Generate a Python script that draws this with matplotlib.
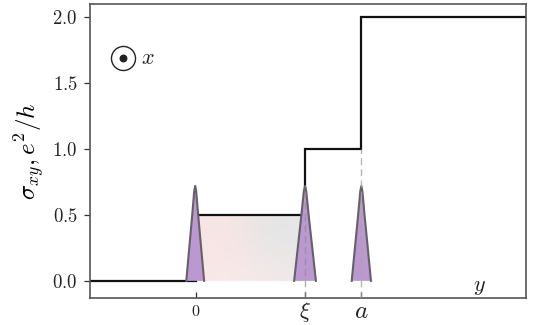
import numpy as np
import matplotlib
matplotlib.use("Agg")
import matplotlib.pyplot as plt
from matplotlib.colors import to_rgb

plt.rcParams["mathtext.fontset"] = "cm"
plt.rcParams["font.family"] = "DejaVu Serif"

# conductance steps
step_x = [-0.64, 0.0, 0.0, 0.66, 0.66, 1.0, 1.0, 2.0]
step_y = [0.0, 0.0, 0.5, 0.5, 1.0, 1.0, 2.0, 2.0]

# peak positions and profile (offset from centre, height)
peak_centres = [-0.003, 0.662, 1.003]
peak_widths = [1.0, 1.22, 1.08]
profile_dx = [-0.054, -0.036, -0.018, -0.006, 0.0, 0.006, 0.018, 0.036, 0.054]
profile_h = [0.0, 0.25, 0.50, 0.68, 0.72, 0.68, 0.50, 0.25, 0.0]

# shaded patch colours between 0 and xi
patch_colors = [["#f7e6e6", "#f5e6e6", "#e6e6e6", "#e6e6e6"],
                ["#f9e4e4", "#f8e5e5", "#e9e6e6", "#e7e6e6"],
                ["#f9e8e8", "#f8e9e9", "#f3e9e9", "#efe9e9"]]

ticks_y = [0.0, 0.5, 1.0, 1.5, 2.0]
tick_labels_y = ["$0.0$", "$0.5$", "$1.0$", "$1.5$", "$2.0$"]
ticks_x = [0.0, 0.66, 1.0]

fig = plt.figure(figsize=(5.4, 3.25), dpi=100)
ax = fig.add_axes([90 / 540, 1 - 298 / 325, 436 / 540, 294 / 325])

# soft colour block behind the middle plateau
rgb = np.array([[to_rgb(c) for c in row] for row in patch_colors])
ax.imshow(rgb, extent=(0.0, 0.66, 0.0, 0.5), origin="upper", aspect="auto",
          interpolation="bicubic", zorder=1)

ax.plot(step_x, step_y, color="#111111", lw=1.6, solid_joinstyle="miter", zorder=2)

for xc, w in zip(peak_centres, peak_widths):
    px = xc + np.array(profile_dx) * w
    ax.fill(px, profile_h, facecolor="#bb98cf", edgecolor="none", zorder=3)
    ax.plot(px, profile_h, color="#66606a", lw=1.5, zorder=4)

ax.plot([0.66, 0.66], [-0.13, 0.72], color="#8f8a99", lw=1, ls=(0, (5, 3)), alpha=0.7, zorder=5)
ax.plot([1.0, 1.0], [-0.13, 1.0], color="#a5a5a5", lw=1, ls=(0, (5, 3)), alpha=0.8, zorder=5)

ax.set_xlim(-0.64, 2.0)
ax.set_ylim(-0.13, 2.1)
ax.set_yticks(ticks_y)
ax.set_yticklabels(tick_labels_y, fontsize=13.5, color="#222222")
ax.set_xticks(ticks_x)
ax.set_xticklabels(["$0$", r"$\xi$", "$a$"], color="#222222")
ax.tick_params(axis="y", length=4, width=0.9, color="#333333", pad=5)
ax.tick_params(axis="x", direction="in", length=4, width=0.9, color="#333333", pad=10)
labels = ax.get_xticklabels()
for lab, size in zip(labels, [11.5, 16, 18]):
    lab.set_fontsize(size)
    lab.set_verticalalignment("center")
for s in ax.spines.values():
    s.set_color("#555555")
    s.set_linewidth(1.2)

ax.set_ylabel(r"$\sigma_{xy},e^2/h$", fontsize=18, labelpad=4)

# out-of-plane x axis marker
ax.scatter([-0.44], [1.69], s=300, fc="white", ec="#222222", lw=1.0, zorder=3)
ax.scatter([-0.44], [1.69], s=22, c="#222222", zorder=4)
ax.text(-0.33, 1.69, "$x$", fontsize=16, va="center", color="#222222")
ax.text(1.68, -0.04, "$y$", fontsize=16, va="center", color="#222222")

fig.savefig("out.png", dpi=100)
